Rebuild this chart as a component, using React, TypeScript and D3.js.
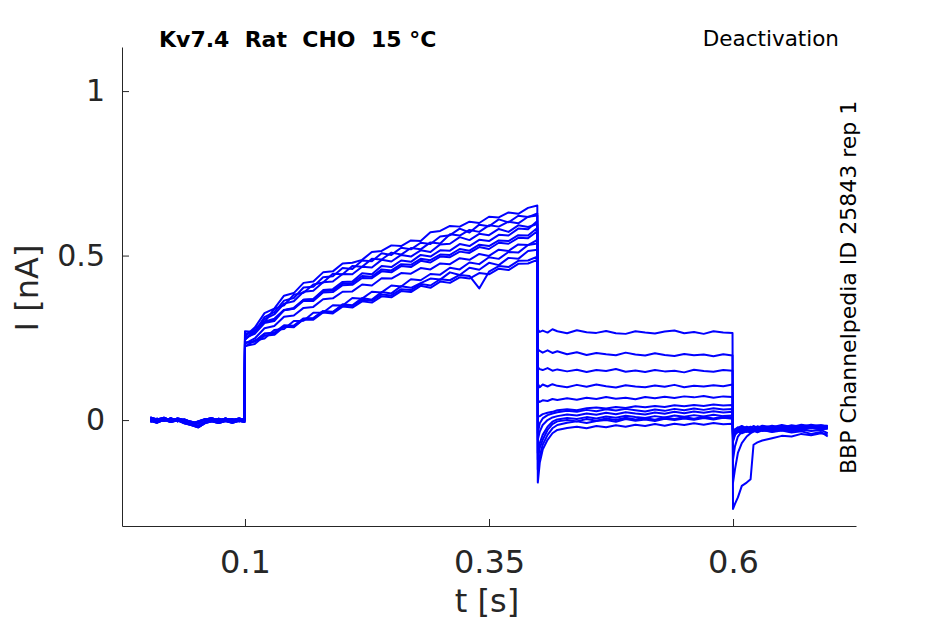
import { useRef, useEffect } from "react";
import * as d3 from "d3";

// time grids (s) for the four protocol segments
const tHold = [0.003, 0.01, 0.017, 0.024, 0.031, 0.038, 0.045, 0.052, 0.059, 0.066, 0.073, 0.08, 0.087, 0.094, 0.0995];
const tAct = [0.1, 0.11, 0.12, 0.13, 0.14, 0.15, 0.16, 0.17, 0.18, 0.19, 0.2, 0.21, 0.22, 0.23, 0.24, 0.25, 0.26, 0.27, 0.28, 0.29, 0.3, 0.31, 0.32, 0.33, 0.34, 0.35, 0.36, 0.37, 0.38, 0.39, 0.3995];
const tDeact = [0.4, 0.402, 0.405, 0.41, 0.415, 0.42, 0.43, 0.44, 0.45, 0.46, 0.47, 0.48, 0.49, 0.5, 0.51, 0.52, 0.53, 0.54, 0.55, 0.56, 0.57, 0.58, 0.59, 0.5995];
const tTail = [0.6, 0.602, 0.605, 0.609, 0.614, 0.618, 0.621, 0.625, 0.63, 0.64, 0.65, 0.66, 0.67, 0.68, 0.69, 0.697];

// holding current (nA), four recordings of the baseline
const holdI = [
  [0.003, -0.004, 0.005, -0.002, 0.004, -0.006, -0.012, -0.004, 0.003, -0.003, 0.004, -0.002, 0.003, -0.004, 0.002],
  [-0.005, 0.004, -0.003, 0.006, -0.004, 0.002, -0.008, -0.018, -0.006, 0.002, -0.004, 0.005, -0.003, 0.004, -0.002],
  [0.008, 0.002, 0.007, -0.001, 0.005, 0.0, -0.005, -0.01, 0.001, 0.006, -0.001, 0.004, 0.0, 0.005, 0.001],
  [-0.002, -0.008, 0.001, -0.006, -0.001, -0.01, -0.015, -0.022, -0.009, -0.004, -0.009, -0.003, -0.008, -0.002, -0.006],
];

// activation step current (nA), one row per sweep
const actI = [
  [0.25, 0.262, 0.295, 0.301, 0.334, 0.339, 0.366, 0.368, 0.395, 0.398, 0.42, 0.421, 0.446, 0.443, 0.468, 0.465, 0.485, 0.481, 0.502, 0.497, 0.516, 0.515, 0.535, 0.529, 0.548, 0.544, 0.563, 0.561, 0.582, 0.58, 0.605],
  [0.255, 0.281, 0.325, 0.339, 0.378, 0.386, 0.417, 0.421, 0.449, 0.452, 0.476, 0.478, 0.487, 0.511, 0.514, 0.531, 0.529, 0.546, 0.544, 0.571, 0.575, 0.59, 0.588, 0.603, 0.599, 0.618, 0.616, 0.631, 0.627, 0.645, 0.652],
  [0.232, 0.248, 0.279, 0.286, 0.314, 0.318, 0.341, 0.344, 0.367, 0.37, 0.39, 0.391, 0.412, 0.409, 0.431, 0.43, 0.447, 0.445, 0.462, 0.458, 0.476, 0.474, 0.492, 0.487, 0.505, 0.499, 0.518, 0.514, 0.534, 0.532, 0.548],
  [0.243, 0.279, 0.298, 0.338, 0.349, 0.381, 0.387, 0.412, 0.418, 0.445, 0.443, 0.468, 0.466, 0.49, 0.488, 0.509, 0.503, 0.523, 0.519, 0.54, 0.537, 0.565, 0.561, 0.578, 0.572, 0.592, 0.588, 0.603, 0.598, 0.618, 0.622],
  [0.225, 0.231, 0.256, 0.259, 0.284, 0.282, 0.307, 0.309, 0.331, 0.328, 0.352, 0.349, 0.371, 0.366, 0.389, 0.385, 0.407, 0.402, 0.416, 0.43, 0.427, 0.449, 0.441, 0.463, 0.457, 0.478, 0.471, 0.493, 0.49, 0.514, 0.518],
  [0.262, 0.27, 0.299, 0.308, 0.335, 0.341, 0.366, 0.367, 0.392, 0.394, 0.414, 0.417, 0.438, 0.436, 0.458, 0.455, 0.474, 0.472, 0.49, 0.486, 0.503, 0.502, 0.52, 0.515, 0.533, 0.529, 0.546, 0.544, 0.562, 0.561, 0.584],
  [0.234, 0.24, 0.263, 0.266, 0.288, 0.287, 0.309, 0.31, 0.331, 0.329, 0.349, 0.347, 0.366, 0.363, 0.382, 0.379, 0.398, 0.395, 0.414, 0.409, 0.428, 0.425, 0.441, 0.438, 0.4, 0.451, 0.468, 0.465, 0.484, 0.485, 0.497],
  [0.248, 0.269, 0.313, 0.328, 0.363, 0.371, 0.403, 0.405, 0.434, 0.437, 0.462, 0.459, 0.485, 0.483, 0.507, 0.502, 0.524, 0.519, 0.539, 0.535, 0.558, 0.562, 0.582, 0.57, 0.594, 0.589, 0.61, 0.601, 0.621, 0.617, 0.628],
  [0.223, 0.242, 0.248, 0.274, 0.277, 0.301, 0.302, 0.326, 0.327, 0.349, 0.348, 0.371, 0.369, 0.39, 0.388, 0.409, 0.406, 0.428, 0.425, 0.444, 0.442, 0.463, 0.458, 0.479, 0.474, 0.495, 0.49, 0.511, 0.509, 0.532, 0.537],
  [0.27, 0.268, 0.298, 0.305, 0.334, 0.338, 0.363, 0.362, 0.388, 0.389, 0.41, 0.411, 0.432, 0.431, 0.452, 0.449, 0.468, 0.465, 0.484, 0.479, 0.497, 0.495, 0.512, 0.508, 0.526, 0.52, 0.539, 0.536, 0.554, 0.553, 0.574],
  [0.236, 0.238, 0.262, 0.263, 0.285, 0.284, 0.306, 0.305, 0.327, 0.324, 0.345, 0.342, 0.361, 0.357, 0.376, 0.373, 0.392, 0.389, 0.408, 0.402, 0.421, 0.417, 0.434, 0.43, 0.447, 0.443, 0.46, 0.456, 0.475, 0.476, 0.487],
  [0.245, 0.268, 0.307, 0.321, 0.354, 0.361, 0.39, 0.393, 0.419, 0.421, 0.444, 0.443, 0.466, 0.464, 0.487, 0.482, 0.502, 0.497, 0.516, 0.511, 0.534, 0.536, 0.556, 0.547, 0.566, 0.562, 0.581, 0.572, 0.592, 0.587, 0.596],
];

// deactivation step current (nA)
const deactI = [
  [0.275, 0.268, 0.272, 0.266, 0.276, 0.27, 0.264, 0.273, 0.267, 0.265, 0.271, 0.264, 0.262, 0.27, 0.266, 0.263, 0.269, 0.272, 0.264, 0.268, 0.262, 0.27, 0.266, 0.265],
  [0.215, 0.21, 0.205, 0.212, 0.204, 0.209, 0.2, 0.206, 0.198, 0.204, 0.2, 0.197, 0.205, 0.199, 0.196, 0.203, 0.198, 0.195, 0.201, 0.197, 0.199, 0.194, 0.2, 0.196],
  [0.16, 0.155, 0.152, 0.158, 0.15, 0.154, 0.148, 0.153, 0.146, 0.152, 0.149, 0.155, 0.147, 0.151, 0.146, 0.152, 0.148, 0.15, 0.145, 0.153, 0.149, 0.147, 0.152, 0.15],
  [0.11, 0.1, 0.108, 0.102, 0.109, 0.104, 0.1, 0.107, 0.101, 0.108, 0.103, 0.099, 0.106, 0.102, 0.1, 0.105, 0.101, 0.107, 0.1, 0.104, 0.102, 0.106, 0.103, 0.108],
  [0.06, 0.055, 0.06, 0.058, 0.064, 0.061, 0.066, 0.062, 0.068, 0.064, 0.07, 0.065, 0.068, 0.063, 0.07, 0.066, 0.071, 0.067, 0.072, 0.069, 0.073, 0.068, 0.072, 0.07],
  [0.01, 0.012, 0.018, 0.022, 0.025, 0.03, 0.033, 0.03, 0.036, 0.038, 0.035, 0.04, 0.037, 0.042, 0.039, 0.043, 0.04, 0.045, 0.042, 0.046, 0.043, 0.047, 0.044, 0.046],
  [-0.04, -0.01, 0.005, 0.015, 0.02, 0.024, 0.028, 0.025, 0.031, 0.027, 0.033, 0.029, 0.034, 0.03, 0.026, 0.032, 0.028, 0.034, 0.03, 0.035, 0.031, 0.036, 0.032, 0.034],
  [-0.06, -0.035, -0.015, 0.0, 0.008, 0.012, 0.017, 0.014, 0.02, 0.016, 0.022, 0.018, 0.024, 0.02, 0.017, 0.023, 0.019, 0.025, 0.021, 0.026, 0.022, 0.027, 0.023, 0.025],
  [-0.1, -0.07, -0.045, -0.02, -0.005, 0.002, 0.006, 0.003, 0.009, 0.005, 0.011, 0.007, 0.013, 0.009, 0.006, 0.012, 0.008, 0.014, 0.01, 0.015, 0.011, 0.016, 0.012, 0.014],
  [-0.15, -0.11, -0.075, -0.045, -0.025, -0.015, -0.008, -0.004, -0.009, -0.003, 0.0, -0.005, 0.003, -0.002, 0.002, -0.003, 0.004, 0.0, 0.005, 0.001, 0.006, 0.002, 0.007, 0.004],
  [-0.19, -0.13, -0.09, -0.06, -0.04, -0.03, -0.024, -0.02, -0.025, -0.018, -0.022, -0.016, -0.02, -0.014, -0.018, -0.012, -0.017, -0.011, -0.015, -0.01, -0.014, -0.009, -0.013, -0.011],
  [-0.12, -0.085, -0.06, -0.03, -0.012, -0.004, 0.0, -0.004, 0.003, -0.002, 0.005, 0.0, 0.007, 0.002, 0.006, 0.001, 0.008, 0.003, 0.009, 0.004, 0.01, 0.005, 0.011, 0.008],
];

// tail current after return to holding (nA)
const tailI = [
  [-0.27, -0.255, -0.235, -0.2, -0.19, -0.18, -0.075, -0.068, -0.062, -0.055, -0.048, -0.05, -0.042, -0.046, -0.04, -0.044],
  [-0.19, -0.15, -0.1, -0.07, -0.05, -0.04, -0.035, -0.03, -0.028, -0.032, -0.025, -0.03, -0.026, -0.022, -0.028, -0.025],
  [-0.12, -0.08, -0.05, -0.035, -0.03, -0.025, -0.028, -0.022, -0.027, -0.02, -0.025, -0.018, -0.024, -0.02, -0.016, -0.02],
  [-0.06, -0.04, -0.03, -0.025, -0.032, -0.026, -0.03, -0.024, -0.029, -0.022, -0.027, -0.021, -0.026, -0.02, -0.024, -0.022],
  [-0.05, -0.035, -0.028, -0.033, -0.026, -0.031, -0.025, -0.03, -0.023, -0.028, -0.02, -0.026, -0.019, -0.025, -0.02, -0.023],
  [-0.045, -0.03, -0.022, -0.027, -0.02, -0.025, -0.018, -0.024, -0.017, -0.022, -0.015, -0.021, -0.014, -0.019, -0.016, -0.018],
  [-0.04, -0.028, -0.024, -0.018, -0.025, -0.02, -0.026, -0.019, -0.024, -0.017, -0.023, -0.016, -0.02, -0.014, -0.019, -0.017],
  [-0.055, -0.04, -0.035, -0.03, -0.036, -0.03, -0.034, -0.028, -0.033, -0.027, -0.031, -0.026, -0.03, -0.024, -0.028, -0.026],
  [-0.05, -0.038, -0.032, -0.036, -0.03, -0.035, -0.029, -0.034, -0.03, -0.036, -0.032, -0.038, -0.034, -0.042, -0.036, -0.05],
  [-0.065, -0.045, -0.035, -0.029, -0.034, -0.028, -0.032, -0.026, -0.031, -0.025, -0.03, -0.024, -0.028, -0.023, -0.027, -0.025],
  [-0.06, -0.042, -0.036, -0.04, -0.034, -0.038, -0.033, -0.037, -0.031, -0.035, -0.03, -0.034, -0.029, -0.033, -0.03, -0.04],
  [-0.048, -0.032, -0.027, -0.022, -0.028, -0.023, -0.027, -0.021, -0.026, -0.02, -0.025, -0.019, -0.024, -0.018, -0.022, -0.02],
];

const xTicks = [0.1, 0.35, 0.6];
const yTicks = [0, 0.5, 1];

type Pt = { t: number; i: number };

export default function App() {
  const svgRef = useRef<SVGSVGElement>(null);

  useEffect(() => {
    if (!svgRef.current) return;
    const svg = d3.select(svgRef.current);
    svg.selectAll("*").remove();

    const width = 945;
    const height = 624;
    const font = "DejaVu Sans, sans-serif";
    const axisColor = "#262626";

    const x = d3.scaleLinear().domain([-0.026, 0.726]).range([122, 856]);
    const y = d3.scaleLinear().domain([-0.322, 1.134]).range([526, 47]);

    svg.attr("viewBox", `0 0 ${width} ${height}`);

    // sweeps
    const sweeps: Pt[][] = actI.map((_, k) => [
      ...tHold.map((t, j) => ({ t, i: holdI[k % holdI.length][j] })),
      ...tAct.map((t, j) => ({ t, i: actI[k][j] })),
      ...tDeact.map((t, j) => ({ t, i: deactI[k][j] })),
      ...tTail.map((t, j) => ({ t, i: tailI[k][j] })),
    ]);

    const line = d3
      .line<Pt>()
      .x((d) => x(d.t))
      .y((d) => y(d.i));

    svg
      .append("g")
      .selectAll("path")
      .data(sweeps)
      .join("path")
      .attr("d", line)
      .attr("fill", "none")
      .attr("stroke", "#0000ff")
      .attr("stroke-width", 2)
      .attr("stroke-linejoin", "round");

    // Axes
    const yAxis = svg
      .append("g")
      .attr("transform", "translate(122,0)")
      .call(
        d3
          .axisLeft(y)
          .tickValues(yTicks)
          .tickSizeInner(-7)
          .tickSizeOuter(0)
          .tickPadding(17)
          .tickFormat((d) => String(d))
      );
    yAxis.selectAll("path, line").attr("stroke", axisColor);
    yAxis
      .selectAll("text")
      .attr("fill", axisColor)
      .attr("font-size", 30)
      .attr("font-family", font);

    const xAxis = svg
      .append("g")
      .attr("transform", "translate(0,526)")
      .call(
        d3
          .axisBottom(x)
          .tickValues(xTicks)
          .tickSizeInner(-7)
          .tickSizeOuter(0)
          .tickPadding(24)
          .tickFormat((d) => String(d))
      );
    xAxis.selectAll("path, line").attr("stroke", axisColor);
    xAxis
      .selectAll("text")
      .attr("fill", axisColor)
      .attr("font-size", 32)
      .attr("font-family", font);

    // Labels
    svg
      .append("text")
      .attr("x", 487)
      .attr("y", 612)
      .attr("text-anchor", "middle")
      .attr("fill", axisColor)
      .attr("font-size", 32)
      .attr("font-family", font)
      .text("t [s]");

    svg
      .append("text")
      .attr("transform", "translate(38,288) rotate(-90)")
      .attr("text-anchor", "middle")
      .attr("fill", axisColor)
      .attr("font-size", 32)
      .attr("font-family", font)
      .text("I [nA]");

    svg
      .append("text")
      .attr("x", 159)
      .attr("y", 47)
      .attr("fill", "#000")
      .attr("font-size", 22)
      .attr("font-weight", "bold")
      .attr("font-family", font)
      .attr("xml:space", "preserve")
      .style("white-space", "pre")
      .text("Kv7.4  Rat  CHO  15 °C");

    svg
      .append("text")
      .attr("x", 839)
      .attr("y", 46)
      .attr("text-anchor", "end")
      .attr("fill", "#000")
      .attr("font-size", 21.5)
      .attr("font-family", font)
      .text("Deactivation");

    svg
      .append("text")
      .attr("transform", "translate(856,474) rotate(-90)")
      .attr("fill", "#000")
      .attr("font-size", 22)
      .attr("font-family", font)
      .text("BBP Channelpedia ID 25843 rep 1");
  }, []);

  return (
    <svg
      ref={svgRef}
      width={945}
      height={624}
      style={{ position: "absolute", left: 0, top: 0, background: "#fff" }}
    />
  );
}
